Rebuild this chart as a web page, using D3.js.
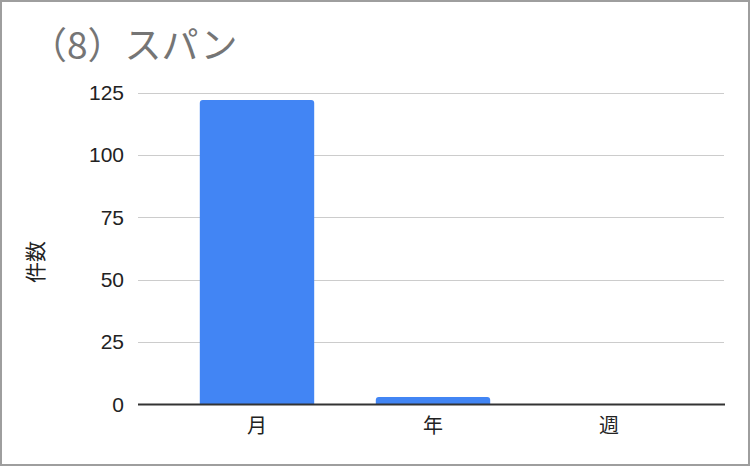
<!DOCTYPE html>
<html>
<head>
<meta charset="utf-8">
<script src="https://cdn.jsdelivr.net/npm/d3@7"></script>
<style>
  html, body { margin: 0; padding: 0; background: #fff; }
  svg { display: block; }
</style>
</head>
<body>
<div class="container"></div>
<script>
const categories = ["月", "年", "週"];
const counts = [122, 3, 0];
const yTicks = [0, 25, 50, 75, 100, 125];
const titleText = "（8）スパン";
const yLabel = "件数";

const w = 750;
const h = 466;
const plotLeft = 138;
const plotRight = 724;
const plotTop = 92.5;
const plotBottom = 404.5;
const jpFont = "'Noto Sans CJK JP', 'Liberation Sans', sans-serif";
const numFont = "'Liberation Sans', Arial, sans-serif";

const svg = d3.select(".container")
    .append("svg")
    .attr("width", w)
    .attr("height", h)
    .style("background", "white");

// frame
svg.append("rect")
    .attr("x", 1)
    .attr("y", 1)
    .attr("width", w - 2)
    .attr("height", h - 2)
    .attr("fill", "none")
    .attr("stroke", "#9e9e9e")
    .attr("stroke-width", 2);

svg.append("text")
    .attr("x", 30)
    .attr("y", 59)
    .attr("font-family", jpFont)
    .attr("font-size", 37)
    .attr("fill", "#757575")
    .text(titleText);

const xScale = d3.scaleBand()
    .domain(categories)
    .range([169, 697])
    .paddingInner(0.35)
    .paddingOuter(0.175);

const yScale = d3.scaleLinear()
    .domain([0, 125])
    .range([plotBottom, plotTop]);

// gridlines
svg.append("g")
    .selectAll("line")
    .data(yTicks.filter(d => d !== 0))
    .enter()
    .append("line")
    .attr("x1", plotLeft)
    .attr("x2", plotRight)
    .attr("y1", d => Math.round(yScale(d)) + 0.5)
    .attr("y2", d => Math.round(yScale(d)) + 0.5)
    .attr("stroke", "#cccccc")
    .attr("stroke-width", 1);

// y axis labels
const yAxis = d3.axisLeft(yScale)
    .tickValues(yTicks)
    .tickSize(0)
    .tickPadding(14);

const gy = svg.append("g")
    .attr("transform", "translate(" + plotLeft + ",0)")
    .call(yAxis);
gy.select(".domain").remove();
gy.selectAll("text")
    .attr("font-family", numFont)
    .attr("font-size", 21)
    .attr("fill", "#222");

// bars
svg.selectAll("path.bar")
    .data(counts)
    .enter()
    .append("path")
    .attr("class", "bar")
    .attr("fill", "#4285f4")
    .attr("d", (d, i) => {
        const x0 = xScale(categories[i]);
        const bw = xScale.bandwidth();
        const y0 = yScale(d);
        const y1 = yScale(0);
        const hh = y1 - y0;
        if (hh <= 0) return "";
        const r = Math.min(3, hh / 2);
        return "M" + x0 + "," + y1 +
            "V" + (y0 + r) +
            "Q" + x0 + "," + y0 + " " + (x0 + r) + "," + y0 +
            "H" + (x0 + bw - r) +
            "Q" + (x0 + bw) + "," + y0 + " " + (x0 + bw) + "," + (y0 + r) +
            "V" + y1 + "Z";
    });

// baseline
svg.append("line")
    .attr("x1", plotLeft)
    .attr("x2", plotRight + 1)
    .attr("y1", yScale(0))
    .attr("y2", yScale(0))
    .attr("stroke", "#333333")
    .attr("stroke-width", 2);

// x axis labels
const xAxis = d3.axisBottom(xScale)
    .tickSize(0)
    .tickPadding(14);

const gx = svg.append("g")
    .attr("transform", "translate(0," + plotBottom + ")")
    .call(xAxis);
gx.select(".domain").remove();
gx.selectAll("text")
    .attr("font-family", jpFont)
    .attr("font-size", 20)
    .attr("fill", "#222");

svg.append("text")
    .attr("transform", "translate(43,262) rotate(-90)")
    .attr("text-anchor", "middle")
    .attr("font-family", jpFont)
    .attr("font-size", 21)
    .attr("fill", "#222")
    .text(yLabel);
</script>
</body>
</html>
